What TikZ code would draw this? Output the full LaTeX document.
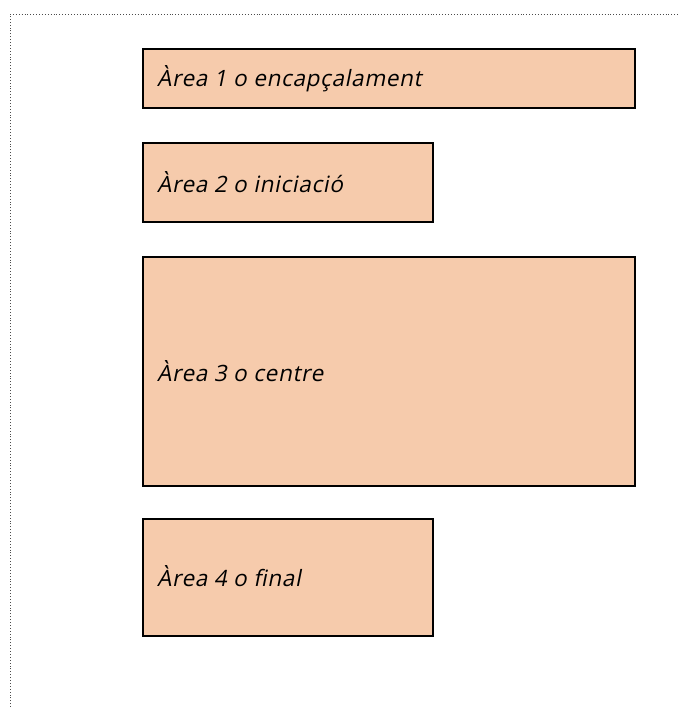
\documentclass[tikz,border=0pt]{standalone}
\usepackage{fontspec}
\newfontfamily\areafont[FakeSlant=0.2, LetterSpace=3]{Open Sans}
\definecolor{areafill}{HTML}{F6CBAC}
\tikzset{
  area/.style={draw=black, line width=1.6pt, fill=areafill, anchor=north west, inner sep=0pt},
  label/.style={anchor=west, inner sep=0pt, font=\areafont\fontsize{22.5}{26}\selectfont},
  frame/.style={draw=black!70, dotted, line width=0.9pt}
}
\begin{document}
\begin{tikzpicture}[x=1pt,y=-1pt]
\useasboundingbox (0,0) rectangle (680,707);
\draw[frame] (10,707) -- (10,14) -- (680,14);
% les quatre arees
\node[area, minimum width=492, minimum height=59] (area1) at (142,48) {};
\node[area, minimum width=290, minimum height=79] (area2) at (142,142) {};
\node[area, minimum width=492, minimum height=229] (area3) at (142,256) {};
\node[area, minimum width=290, minimum height=117] (area4) at (142,518) {};
\node[label] (text1) at ([xshift=15]area1.west) {Àrea 1 o encapçalament};
\node[label] (text2) at ([xshift=15]area2.west) {Àrea 2 o iniciació};
\node[label] (text3) at ([xshift=15]area3.west) {Àrea 3 o centre};
\node[label] (text4) at ([xshift=15,yshift=1]area4.west) {Àrea 4 o final};
\end{tikzpicture}
\end{document}
